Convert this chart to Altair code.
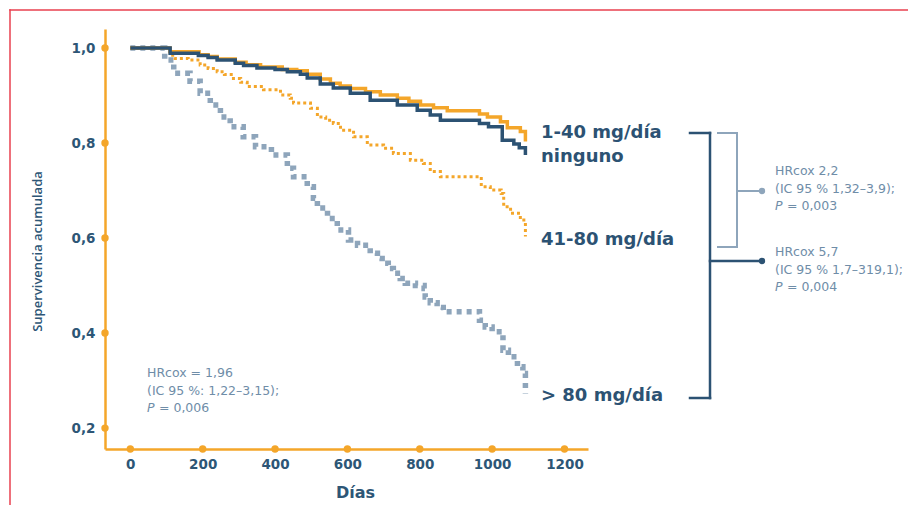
import altair as alt
import pandas as pd

# ---- data ----
days_40 = [0, 110, 190, 215, 240, 290, 320, 360, 420, 460, 489, 525, 553, 580, 608, 650, 691, 738, 770, 802, 838, 876, 965, 987, 1023, 1042, 1078, 1092]
surv_40 = [1.0, 0.992, 0.986, 0.982, 0.977, 0.970, 0.965, 0.960, 0.955, 0.952, 0.945, 0.935, 0.926, 0.920, 0.915, 0.908, 0.901, 0.894, 0.888, 0.880, 0.874, 0.868, 0.861, 0.855, 0.845, 0.832, 0.824, 0.803]

days_none = [0, 110, 188, 215, 240, 290, 313, 350, 400, 434, 470, 489, 525, 561, 608, 663, 738, 793, 829, 857, 965, 990, 1028, 1060, 1075, 1092]
surv_none = [1.0, 0.989, 0.984, 0.980, 0.975, 0.968, 0.963, 0.958, 0.955, 0.950, 0.945, 0.937, 0.924, 0.916, 0.905, 0.890, 0.880, 0.869, 0.859, 0.848, 0.841, 0.834, 0.806, 0.798, 0.790, 0.775]

days_80 = [0, 110, 124, 160, 193, 215, 240, 260, 285, 305, 323, 368, 415, 442, 451, 498, 517, 540, 561, 581, 617, 655, 700, 727, 774, 810, 829, 857, 970, 995, 1025, 1032, 1051, 1078, 1092]
surv_80 = [1.0, 0.985, 0.978, 0.975, 0.964, 0.957, 0.950, 0.944, 0.936, 0.928, 0.919, 0.912, 0.901, 0.894, 0.884, 0.873, 0.855, 0.848, 0.841, 0.827, 0.813, 0.796, 0.789, 0.778, 0.764, 0.757, 0.740, 0.729, 0.708, 0.701, 0.694, 0.666, 0.652, 0.638, 0.603]

days_gt80 = [0, 95, 120, 165, 193, 221, 249, 276, 312, 346, 390, 434, 451, 489, 506, 517, 545, 572, 603, 628, 663, 683, 696, 713, 727, 746, 760, 788, 812, 815, 829, 848, 865, 965, 981, 1000, 1030, 1045, 1070, 1085, 1092]
surv_gt80 = [1.0, 0.975, 0.947, 0.930, 0.905, 0.880, 0.855, 0.834, 0.813, 0.792, 0.775, 0.747, 0.729, 0.708, 0.684, 0.663, 0.641, 0.617, 0.596, 0.585, 0.568, 0.557, 0.547, 0.536, 0.526, 0.515, 0.505, 0.500, 0.494, 0.476, 0.464, 0.454, 0.445, 0.427, 0.413, 0.403, 0.364, 0.350, 0.329, 0.315, 0.273]

x_ticks = [0, 200, 400, 600, 800, 1000, 1200]
y_ticks = [0.2, 0.4, 0.6, 0.8, 1.0]

group_labels = ["1-40 mg/día", "ninguno", "41-80 mg/día", "> 80 mg/día"]

# ---- styles ----
ORANGE = "#F4A62A"
NAVY = "#2C5273"
GREYBLUE = "#8EA5BB"
TEXT = "#2D5676"
NOTE = "#6F8DA8"
FONT = "DejaVu Sans"
TFONT = "Open Sans"

def series(days, surv):
    return pd.DataFrame({"dias": days, "surv": surv})

xs = alt.Scale(domain=[-70, 1265], nice=False, zero=False)
ys = alt.Scale(domain=[0.156, 1.04], nice=False, zero=False)

x_axis = alt.Axis(values=x_ticks, format="d", ticks=False, grid=False,
                  domainColor=ORANGE, domainWidth=2.5,
                  labelFont=FONT, labelFontSize=13.5, labelFontWeight="bold", labelColor=TEXT,
                  labelPadding=8, title="Días", titleFont=FONT, titleFontSize=16,
                  titleFontWeight="bold", titleColor=TEXT, titleX=250, titleY=43,
                  titleBaseline="middle", titleAlign="center")
y_axis = alt.Axis(values=y_ticks, ticks=False, grid=False,
                  labelExpr="replace(format(datum.value, '.1f'), '.', ',')",
                  domainColor=ORANGE, domainWidth=2.5,
                  labelFont=FONT, labelFontSize=13.5, labelFontWeight="bold", labelColor=TEXT,
                  labelPadding=10, title="Supervivencia acumulada", titleFont=TFONT,
                  titleFontSize=13, titleFontWeight=600, titleColor=TEXT,
                  titleX=-68, titleY=222, titleAngle=-90, titleAlign="center",
                  titleBaseline="middle")

def line(df, color, width, dash=None):
    kw = dict(interpolate="step-after", color=color, strokeWidth=width, strokeCap="butt")
    if dash:
        kw["strokeDash"] = dash
    return alt.Chart(df).mark_line(**kw).encode(
        x=alt.X("dias:Q", scale=xs, axis=x_axis),
        y=alt.Y("surv:Q", scale=ys, axis=y_axis),
    )

l_gt80 = line(series(days_gt80, surv_gt80), GREYBLUE, 5.5, [5, 5])
l_80 = line(series(days_80, surv_80), ORANGE, 3, [3, 3])
l_40 = line(series(days_40, surv_40), ORANGE, 3.5)
l_none = line(series(days_none, surv_none), NAVY, 3.5)

xdots = alt.Chart(pd.DataFrame({"dias": x_ticks})).mark_point(
    filled=True, size=55, color=ORANGE, opacity=1).encode(
    x=alt.X("dias:Q", scale=xs, axis=x_axis), y=alt.value(420))
ydots = alt.Chart(pd.DataFrame({"surv": y_ticks})).mark_point(
    filled=True, size=55, color=ORANGE, opacity=1).encode(
    y=alt.Y("surv:Q", scale=ys, axis=y_axis), x=alt.value(0))

# group labels on the right
lab_df = pd.DataFrame({"label": group_labels, "py": [104, 128, 211, 367]})
labels = alt.Chart(lab_df).mark_text(
    align="left", baseline="middle", font=FONT, fontSize=18, fontWeight="bold",
    color=NAVY).encode(text="label:N", x=alt.value(436), y=alt.Y("py:Q", scale=None, axis=None))

def rule(x1, y1, x2, y2, color, width=2.5):
    return alt.Chart(pd.DataFrame({"a": [0]})).mark_rule(
        color=color, strokeWidth=width, strokeCap="square").encode(
        x=alt.value(x1), y=alt.value(y1), x2=alt.value(x2), y2=alt.value(y2))

brackets = [
    rule(585, 104, 605, 104, NAVY), rule(605, 104, 605, 369, NAVY),
    rule(585, 369, 605, 369, NAVY), rule(605, 232, 657, 232, NAVY),
    rule(613, 104, 632, 104, GREYBLUE, 2), rule(632, 104, 632, 218, GREYBLUE, 2),
    rule(613, 218, 632, 218, GREYBLUE, 2), rule(632, 162, 657, 162, GREYBLUE, 2),
]
bdots = alt.Chart(pd.DataFrame({"px": [657, 657], "py": [162, 232], "c": [GREYBLUE, NAVY]})).mark_point(
    filled=True, size=40, opacity=1).encode(
    x=alt.X("px:Q", scale=None, axis=None), y=alt.Y("py:Q", scale=None, axis=None),
    color=alt.Color("c:N", scale=None))

NOTE_SIZE = 12.5

def note(lines, x, y0, dy=17.5):
    layers = []
    for i, txt in enumerate(lines):
        y = y0 + i * dy
        if txt.startswith("P "):
            layers.append(alt.Chart(pd.DataFrame({"t": ["P"]})).mark_text(
                align="left", baseline="middle", font=FONT, fontSize=NOTE_SIZE, fontStyle="italic",
                color=NOTE).encode(text="t:N", x=alt.value(x), y=alt.value(y)))
            layers.append(alt.Chart(pd.DataFrame({"t": [txt[2:]]})).mark_text(
                align="left", baseline="middle", font=FONT, fontSize=NOTE_SIZE,
                color=NOTE).encode(text="t:N", x=alt.value(x + 12), y=alt.value(y)))
        else:
            layers.append(alt.Chart(pd.DataFrame({"t": [txt]})).mark_text(
                align="left", baseline="middle", font=FONT, fontSize=NOTE_SIZE,
                color=NOTE).encode(text="t:N", x=alt.value(x), y=alt.value(y)))
    return layers

notes = (note(["HRcox 2,2", "(IC 95 % 1,32–3,9);", "P = 0,003"], 670, 142)
         + note(["HRcox 5,7", "(IC 95 % 1,7–319,1);", "P = 0,004"], 670, 223)
         + note(["HRcox = 1,96", "(IC 95 %: 1,22–3,15);", "P = 0,006"], 42, 344))

border = [rule(-95, -19, -95, 490, "#E8414F", 1.5), rule(-95, -19, 830, -19, "#E8414F", 1.5)]

chart = alt.layer(
    l_gt80, l_80, l_40, l_none, xdots, ydots, labels, *brackets, bdots, *notes, *border
).properties(
    width=483, height=420,
    autosize=alt.AutoSizeParams(type="none"),
    padding={"left": 97, "top": 21, "right": 320, "bottom": 56},
).configure_view(stroke=None)

chart.save("out.html", embed_options={"renderer": "svg", "actions": False})
